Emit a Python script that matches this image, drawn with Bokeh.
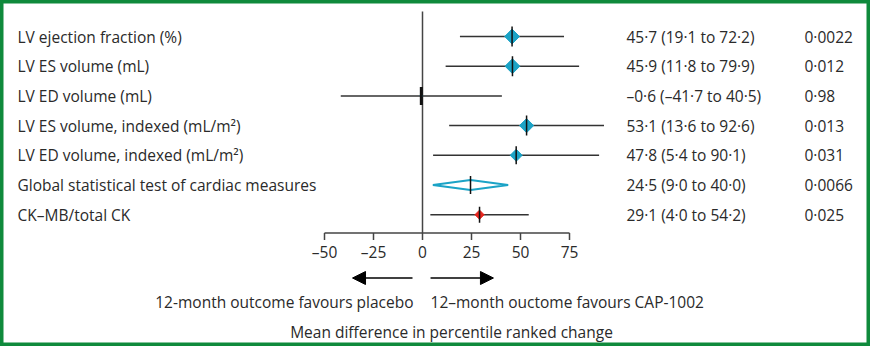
from bokeh.plotting import figure
from bokeh.models import Range1d, Arrow, NormalHead, ColumnDataSource
from bokeh.core.properties import value
from bokeh.embed import file_html
from bokeh.resources import INLINE
import math

labels = ["LV ejection fraction (%)", "LV ES volume (mL)", "LV ED volume (mL)",
          "LV ES volume, indexed (mL/m\u00b2)", "LV ED volume, indexed (mL/m\u00b2)",
          "Global statistical test of cardiac measures", "CK\u2013MB/total CK"]
est = [45.7, 45.9, -0.6, 53.1, 47.8, 24.5, 29.1]
lo = [19.1, 11.8, -41.7, 13.6, 5.4, 9.0, 4.0]
hi = [72.2, 79.9, 40.5, 92.6, 90.1, 40.0, 54.2]
pvals = ["0\u00b70022", "0\u00b7012", "0\u00b798", "0\u00b7013", "0\u00b7031", "0\u00b70066", "0\u00b7025"]
ticks = [-50, -25, 0, 25, 50, 75]
tick_labels = ["\u201350", "\u201325", "0", "25", "50", "75"]

def fmt(v):
    s = f"{v:.1f}".replace(".", "\u00b7")
    return s.replace("-", "\u2013")

est_text = [f"{fmt(e)} ({fmt(l)} to {fmt(h)})" for e, l, h in zip(est, lo, hi)]

W, H = 870, 346
x0px, scale = 422.0, 1.96
p = figure(width=W, height=H, output_backend="svg", toolbar_location=None,
           x_range=Range1d((0 - x0px) / scale, (W - x0px) / scale),
           y_range=Range1d(H, 0), min_border=0)
p.axis.visible = False
p.grid.visible = False
p.outline_line_color = "#0f8a3c"
p.outline_line_width = 6
p.background_fill_color = "white"

FONT = value("Open Sans")
top, step = 36.0, 29.7
ys = [top + i * step for i in range(len(labels))]
xl = -(x0px - 17) / scale
xe = (626 - x0px) / scale
xp = (804 - x0px) / scale

src = ColumnDataSource(dict(y=ys, lab=labels, est=est, lo=lo, hi=hi, et=est_text, pv=pvals))
TS = "15.5px"
TC = "#2a2a2a"
p.text(x=xl, y="y", text="lab", source=src, text_font=FONT, text_font_size=TS,
       text_baseline="middle", text_color=TC)
p.text(x=xe, y="y", text="et", source=src, text_font=FONT, text_font_size=TS,
       text_baseline="middle", text_color=TC)
p.text(x=xp, y="y", text="pv", source=src, text_font=FONT, text_font_size=TS,
       text_baseline="middle", text_color=TC)

axis_y = 232.5
# zero line
p.segment(x0=0, y0=11, x1=0, y1=axis_y, line_color="#444444", line_width=1.5)

# CI whiskers (not for global test)
ci_rows = [0, 1, 2, 3, 4, 6]
p.segment(x0=[lo[i] for i in ci_rows], x1=[hi[i] for i in ci_rows],
          y0=[ys[i] for i in ci_rows], y1=[ys[i] for i in ci_rows],
          line_color="#333333", line_width=1.5)

# filled diamonds
teal = "#1ba3c6"
d_rows = [0, 1, 2, 3, 4]
d_size = [10.5, 10.5, 2, 10, 8.5]
p.scatter(x=[est[i] for i in d_rows], y=[ys[i] for i in d_rows], size=d_size,
          marker="square", angle=math.pi / 4, fill_color=teal, line_color=teal)
# red diamond
p.scatter(x=[est[6]], y=[ys[6]], size=6.5, marker="square", angle=math.pi / 4,
          fill_color="#e8261e", line_color="#e8261e")

# hollow diamond for global test
g = 5
gh = 19.2  # drawn half-width of summary diamond
p.patch(x=[est[g] - gh, est[g], est[g] + gh, est[g]], y=[ys[g], ys[g] - 5, ys[g], ys[g] + 5],
        fill_color="white", line_color=teal, line_width=2.2)

# vertical estimate lines
v_rows = [0, 1, 2, 3, 4, 5, 6]
half = [10, 10, 9, 10, 9, 9, 8]
lw = [1.5, 1.5, 3, 1.5, 1.5, 1.5, 1.5]
p.segment(x0=[est[i] for i in v_rows], x1=[est[i] for i in v_rows],
          y0=[ys[i] - half[k] for k, i in enumerate(v_rows)],
          y1=[ys[i] + half[k] for k, i in enumerate(v_rows)],
          line_color="#111111", line_width=lw)

# axis
p.segment(x0=ticks[0], x1=ticks[-1], y0=axis_y, y1=axis_y, line_color="#444444", line_width=1.5)
p.segment(x0=ticks, x1=ticks, y0=[axis_y] * len(ticks), y1=[axis_y + 7] * len(ticks),
          line_color="#444444", line_width=1.5)
p.text(x=ticks, y=[axis_y + 19] * len(ticks), text=tick_labels, text_font=FONT,
       text_font_size=TS, text_align="center", text_baseline="middle", text_color=TC)

# arrows
ay = 277.5
p.add_layout(Arrow(end=NormalHead(size=13, fill_color="black", line_color="black"),
                   x_start=-5.1, y_start=ay, x_end=-35.7, y_end=ay,
                   line_color="black", line_width=1.5))
p.add_layout(Arrow(end=NormalHead(size=13, fill_color="black", line_color="black"),
                   x_start=4.1, y_start=ay, x_end=36.2, y_end=ay,
                   line_color="black", line_width=1.5))

p.text(x=[-4.6], y=[301], text=["12-month outcome favours placebo"], text_font=FONT,
       text_font_size=TS, text_align="right", text_baseline="middle", text_color=TC)
p.text(x=[4.1], y=[301], text=["12\u2013month ouctome favours CAP-1002"], text_font=FONT,
       text_font_size=TS, text_align="left", text_baseline="middle", text_color=TC)
p.text(x=[(451 - x0px) / scale], y=[331], text=["Mean difference in percentile ranked change"],
       text_font=FONT, text_font_size=TS, text_align="center", text_baseline="middle",
       text_color=TC)

open("out.html", "w").write(file_html(p, INLINE))
